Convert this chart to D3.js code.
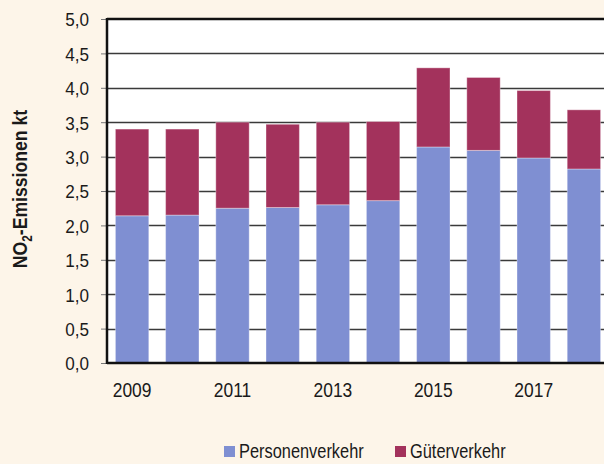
<!DOCTYPE html>
<html>
<head>
<meta charset="utf-8">
<script src="https://cdn.jsdelivr.net/npm/d3@7"></script>
<style>
  body { margin: 0; background: #fdf5e9; overflow: hidden; }
  svg { display: block; }
  text { font-family: "Liberation Sans", Arial, sans-serif; fill: #1a1a1a; }
</style>
</head>
<body>
<div class="emissionChart"></div>
<script>
//Chart data (kt NO2)
const years = [2009, 2010, 2011, 2012, 2013, 2014, 2015, 2016, 2017, 2018];
const personenverkehr = [2.14, 2.15, 2.25, 2.26, 2.30, 2.36, 3.14, 3.09, 2.98, 2.82];
const gueterverkehr = [1.26, 1.25, 1.25, 1.21, 1.20, 1.15, 1.15, 1.06, 0.98, 0.86];
const yTicks = [0, 0.5, 1, 1.5, 2, 2.5, 3, 3.5, 4, 4.5, 5];
const xLabelYears = [2009, 2011, 2013, 2015, 2017];
const seriesNames = ["Personenverkehr", "Güterverkehr"];

const width = 604;
const height = 464;
const colors = ["#7f8fd2", "#a3325c"];

//Plot area (runs past the right edge like the original)
const plotLeft = 107, plotRight = 609, plotTop = 19, plotBottom = 363;

//No narrow font available, so text gets squeezed horizontally
const narrow = (s) => `scale(${s},1)`;

const svg = d3.select(".emissionChart").append("svg")
  .attr("width", width)
  .attr("height", height);

//Scales setup
const xscale = d3.scaleBand().domain(years).range([plotLeft, plotRight]).paddingInner(0.335).paddingOuter(0.1675);
const yscale = d3.scaleLinear().domain([0, 5]).range([plotBottom, plotTop]);

//White plot background
svg.append("rect")
  .attr("x", plotLeft).attr("y", plotTop)
  .attr("width", plotRight - plotLeft).attr("height", plotBottom - plotTop)
  .attr("fill", "#ffffff");

//Gridlines
svg.append("g").selectAll("line").data(yTicks.slice(1, -1)).join("line")
  .attr("x1", plotLeft).attr("x2", plotRight)
  .attr("y1", (d) => Math.round(yscale(d)) + 0.5)
  .attr("y2", (d) => Math.round(yscale(d)) + 0.5)
  .attr("stroke", "#3a3a3a").attr("stroke-width", 1.3);

//Stacked bars
const rows = years.map((y, i) => ({ year: y, p: personenverkehr[i], g: gueterverkehr[i] }));
const stacked = d3.stack().keys(["p", "g"])(rows);

svg.append("g").selectAll("g").data(stacked).join("g")
  .attr("fill", (d, i) => colors[i])
  .selectAll("rect").data((d) => d).join("rect")
    .attr("x", (d) => xscale(d.data.year))
    .attr("y", (d) => yscale(d[1]))
    .attr("width", xscale.bandwidth())
    .attr("height", (d) => yscale(d[0]) - yscale(d[1]))
    .attr("stroke", "#ffffff").attr("stroke-opacity", 0.35).attr("stroke-width", 1);

//Y axis
const yaxis = d3.axisLeft(yscale).tickValues(yTicks).tickSize(6).tickPadding(12)
  .tickFormat((d) => d3.format(".1f")(d).replace(".", ","));
const g_yaxis = svg.append("g").attr("transform", `translate(${plotLeft},0)`).call(yaxis);
g_yaxis.select(".domain").remove();
g_yaxis.selectAll("line").attr("stroke", "#777");
g_yaxis.selectAll("text")
  .attr("x", null)
  .attr("transform", `translate(-18,0) ${narrow(0.9)}`)
  .style("font-size", "19px").attr("fill", "#1a1a1a").attr("dy", "0.36em");

//Frame lines: left, top, bottom
svg.append("line").attr("x1", plotLeft).attr("x2", plotLeft).attr("y1", plotTop - 1).attr("y2", plotBottom + 1)
  .attr("stroke", "#111").attr("stroke-width", 2.5);
svg.append("line").attr("x1", plotLeft).attr("x2", plotRight).attr("y1", plotTop).attr("y2", plotTop)
  .attr("stroke", "#111").attr("stroke-width", 2.5);
svg.append("line").attr("x1", plotLeft).attr("x2", plotRight).attr("y1", plotBottom).attr("y2", plotBottom)
  .attr("stroke", "#111").attr("stroke-width", 2.5);

//X axis labels (every second year)
svg.append("g").selectAll("text").data(xLabelYears).join("text")
  .attr("transform", (d) => `translate(${xscale(d) + xscale.bandwidth() / 2},397) ${narrow(0.83)}`)
  .attr("text-anchor", "middle")
  .style("font-size", "21px")
  .text((d) => d);

//Y axis title with subscript
const title = svg.append("text")
  .attr("transform", `translate(27,189) rotate(-90) ${narrow(0.84)}`)
  .attr("text-anchor", "middle")
  .style("font-size", "21px").style("font-weight", "bold");
title.append("tspan").text("NO");
title.append("tspan").text("2").style("font-size", "14px").attr("dy", 5);
title.append("tspan").text("-Emissionen kt").attr("dy", -5);

//Legend
const legendX = [224, 395];
const legend = svg.append("g").selectAll("g").data(seriesNames).join("g")
  .attr("transform", (d, i) => `translate(${legendX[i]},446)`);
legend.append("rect").attr("width", 11).attr("height", 11).attr("fill", (d, i) => colors[i]);
legend.append("text").attr("transform", `translate(15,12) ${narrow(0.82)}`)
  .style("font-size", "20px").text((d) => d);
</script>
</body>
</html>
